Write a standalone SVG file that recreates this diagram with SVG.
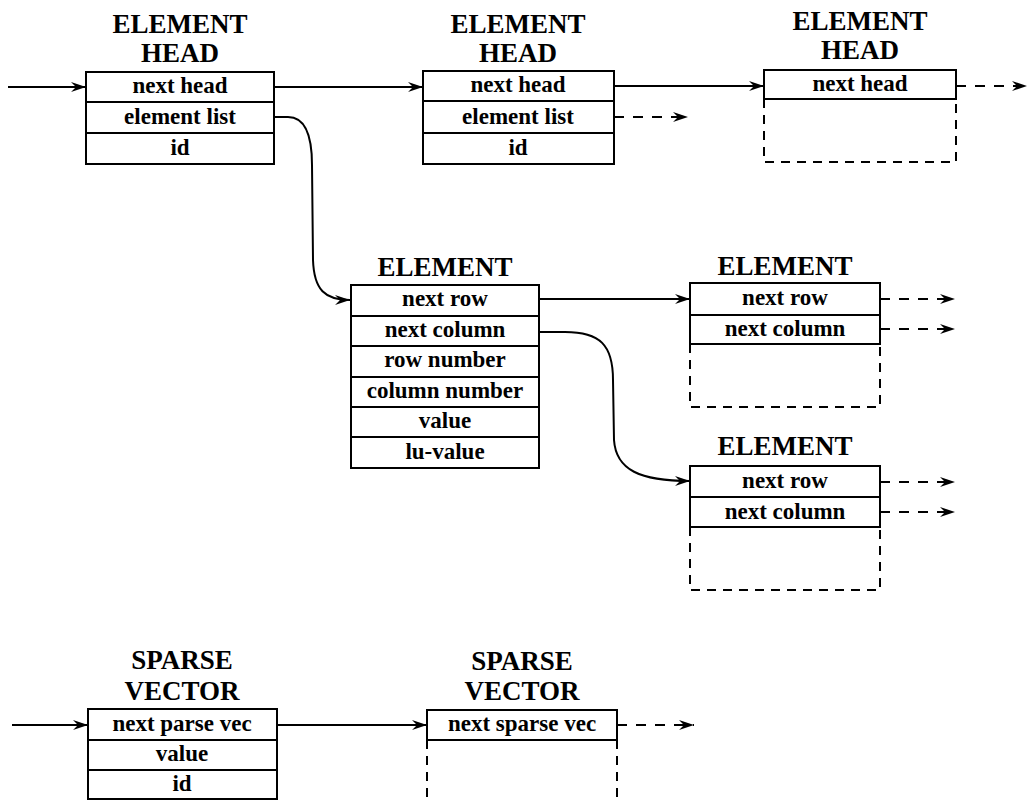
<svg xmlns="http://www.w3.org/2000/svg" width="1030" height="800" viewBox="0 0 1030 800">
<style>
.box{fill:none;stroke:#000;stroke-width:2}
.dbox{fill:none;stroke:#000;stroke-width:2;stroke-dasharray:9,7}
.t{font-family:"Liberation Serif","Times New Roman",serif;font-weight:bold;font-size:27px;text-anchor:middle;fill:#000}
.c{font-family:"Liberation Serif","Times New Roman",serif;font-weight:bold;font-size:23px;text-anchor:middle;fill:#000}
.ln{fill:none;stroke:#000;stroke-width:2;marker-end:url(#ah)}
.dl{fill:none;stroke:#000;stroke-width:2;stroke-dasharray:10,9;marker-end:url(#ah)}
</style>
<defs>
<marker id="ah" markerUnits="userSpaceOnUse" viewBox="-16 -6 17 12" refX="0" refY="0" markerWidth="17" markerHeight="12" orient="auto">
<path d="M-15,-5 L0,0 L-15,5 L-10,0 Z" fill="#000"/>
</marker>
</defs>
<rect width="1030" height="800" fill="#fff"/>

<g id="head1">
<text class="t" x="180" y="33">ELEMENT</text>
<text class="t" x="180" y="62">HEAD</text>
<rect class="box" x="86" y="72" width="188" height="92"/>
<line class="box" x1="86" y1="102" x2="274" y2="102"/>
<line class="box" x1="86" y1="133" x2="274" y2="133"/>
<text class="c" x="180" y="93">next head</text>
<text class="c" x="180" y="124">element list</text>
<text class="c" x="180" y="155">id</text>
</g>

<g id="head2">
<text class="t" x="518" y="33">ELEMENT</text>
<text class="t" x="518" y="62">HEAD</text>
<rect class="box" x="423" y="71" width="191" height="93"/>
<line class="box" x1="423" y1="101" x2="614" y2="101"/>
<line class="box" x1="423" y1="133" x2="614" y2="133"/>
<text class="c" x="518" y="92">next head</text>
<text class="c" x="518" y="124">element list</text>
<text class="c" x="518" y="155">id</text>
</g>

<g id="head3">
<text class="t" x="860" y="30">ELEMENT</text>
<text class="t" x="860" y="59">HEAD</text>
<rect class="box" x="764" y="70" width="192" height="29"/>
<path class="dbox" d="M764,99 L764,162 L956,162 L956,99"/>
<text class="c" x="860" y="91">next head</text>
</g>

<g id="element1">
<text class="t" x="445" y="276">ELEMENT</text>
<rect class="box" x="351" y="285" width="188" height="183"/>
<line class="box" x1="351" y1="316" x2="539" y2="316"/>
<line class="box" x1="351" y1="346" x2="539" y2="346"/>
<line class="box" x1="351" y1="377" x2="539" y2="377"/>
<line class="box" x1="351" y1="407" x2="539" y2="407"/>
<line class="box" x1="351" y1="437" x2="539" y2="437"/>
<text class="c" x="445" y="306">next row</text>
<text class="c" x="445" y="337">next column</text>
<text class="c" x="445" y="367">row number</text>
<text class="c" x="445" y="398">column number</text>
<text class="c" x="445" y="428">value</text>
<text class="c" x="445" y="459">lu-value</text>
</g>

<g id="element2">
<text class="t" x="785" y="275">ELEMENT</text>
<rect class="box" x="690" y="283" width="190" height="61"/>
<line class="box" x1="690" y1="315" x2="880" y2="315"/>
<path class="dbox" d="M690,344 L690,407 L880,407 L880,344"/>
<text class="c" x="785" y="305">next row</text>
<text class="c" x="785" y="336">next column</text>
</g>

<g id="element3">
<text class="t" x="785" y="455">ELEMENT</text>
<rect class="box" x="690" y="466" width="190" height="61"/>
<line class="box" x1="690" y1="497" x2="880" y2="497"/>
<path class="dbox" d="M690,527 L690,590 L880,590 L880,527"/>
<text class="c" x="785" y="488">next row</text>
<text class="c" x="785" y="519">next column</text>
</g>

<g id="sparse1">
<text class="t" x="182" y="669">SPARSE</text>
<text class="t" x="182" y="700">VECTOR</text>
<rect class="box" x="88" y="709" width="189" height="90"/>
<line class="box" x1="88" y1="740" x2="277" y2="740"/>
<line class="box" x1="88" y1="770" x2="277" y2="770"/>
<text class="c" x="182" y="731">next parse vec</text>
<text class="c" x="182" y="761">value</text>
<text class="c" x="182" y="791">id</text>
</g>

<g id="sparse2">
<text class="t" x="522" y="670">SPARSE</text>
<text class="t" x="522" y="700">VECTOR</text>
<rect class="box" x="427" y="710" width="190" height="30"/>
<path class="dbox" d="M427,740 L427,800 M617,740 L617,800"/>
<text class="c" x="522" y="731">next sparse vec</text>
</g>

<g id="connectors">
<line class="ln" x1="8" y1="87" x2="86" y2="87"/>
<line class="ln" x1="274" y1="87" x2="423" y2="87"/>
<line class="ln" x1="614" y1="86" x2="764" y2="86"/>
<line class="dl" x1="956" y1="86" x2="1027" y2="86"/>
<line class="dl" x1="614" y1="117" x2="688" y2="117"/>
<path class="ln" d="M274,117 L288,117 C305,117 312,135 312,165 L313,260 C314,290 325,300 350,300"/>
<line class="ln" x1="539" y1="299" x2="690" y2="299"/>
<path class="ln" d="M539,332 L565,332 C600,332 613,345 613,380 L614,440 C616,470 640,481 690,481"/>
<line class="dl" x1="880" y1="299" x2="955" y2="299"/>
<line class="dl" x1="880" y1="329" x2="955" y2="329"/>
<line class="dl" x1="880" y1="482" x2="955" y2="482"/>
<line class="dl" x1="880" y1="512" x2="955" y2="512"/>
<line class="ln" x1="12" y1="725" x2="88" y2="725"/>
<line class="ln" x1="277" y1="725" x2="427" y2="725"/>
<line class="dl" x1="617" y1="725" x2="694" y2="725"/>
</g>
</svg>
